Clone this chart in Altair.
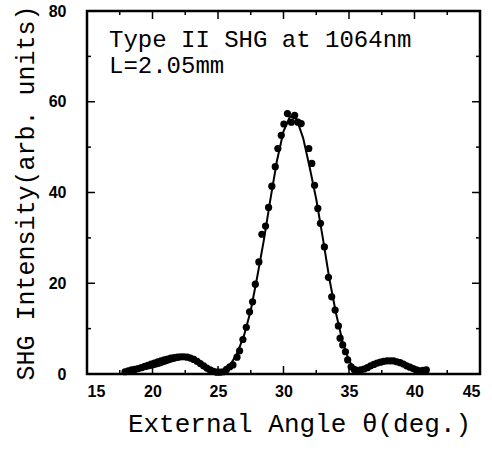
import altair as alt
import pandas as pd

# Measured SHG intensity vs. external angle
angle = [
    17.90, 18.15, 18.40, 18.65, 18.90, 19.15, 19.40, 19.65, 19.90, 20.15,
    20.40, 20.65, 20.90, 21.15, 21.40, 21.65, 21.90, 22.15, 22.40, 22.65,
    22.90, 23.15, 23.40, 23.65, 23.90, 24.15, 24.40, 24.65, 24.90, 25.15,
    25.40, 25.65, 25.90, 26.14, 26.45, 26.65, 26.90, 27.16, 27.41, 27.64,
    27.85, 28.12, 28.35, 28.63, 28.86, 29.11, 29.37, 29.57, 29.83, 30.03,
    30.30, 30.60, 30.85, 31.10, 31.35, 31.93, 32.16, 32.37, 32.62, 32.82,
    33.12, 33.43, 33.68, 33.94, 34.19, 34.32, 34.52, 34.73, 34.90, 35.16,
    35.40, 35.65, 35.90, 36.15, 36.40, 36.65, 36.90, 37.15, 37.40, 37.65,
    37.90, 38.15, 38.40, 38.65, 38.90, 39.15, 39.40, 39.65, 39.90, 40.15,
    40.40, 40.65, 40.90,
]
intensity = [
    0.5, 0.7, 0.9, 1.0, 1.2, 1.4, 1.7, 1.9, 2.2, 2.4,
    2.7, 2.9, 3.1, 3.3, 3.5, 3.6, 3.7, 3.8, 3.8, 3.7,
    3.5, 3.2, 2.8, 2.3, 1.8, 1.3, 0.9, 0.6, 0.4, 0.4,
    0.5, 1.0, 1.6, 2.0, 3.7, 5.1, 7.6, 10.3, 13.7, 15.9,
    19.8, 24.7, 30.8, 32.6, 36.7, 41.4, 45.7, 49.7, 52.6, 55.1,
    57.4, 55.5, 57.0, 55.5, 55.2, 49.7, 46.4, 41.6, 36.5, 33.2,
    28.0, 21.3, 17.0, 14.1, 10.6, 7.9, 6.4, 4.9, 3.1, 1.6,
    1.0, 0.8, 0.9, 1.1, 1.4, 1.8, 2.1, 2.4, 2.6, 2.8,
    2.9, 2.9, 2.9, 2.7, 2.5, 2.2, 1.8, 1.5, 1.2, 0.9,
    0.7, 0.8, 0.9,
]

# Theoretical phase-matching curve
fit_angle = [
    18.0, 18.5, 19.0, 19.5, 20.0, 20.5, 21.0, 21.5, 22.0, 22.5,
    23.0, 23.5, 24.0, 24.5, 25.0, 25.5, 26.0, 26.5, 27.0, 27.5,
    28.0, 28.5, 29.0, 29.5, 30.0, 30.5, 31.0, 31.5, 32.0, 32.5,
    33.0, 33.5, 34.0, 34.5, 35.0, 35.5, 36.0, 36.5, 37.0, 37.5,
    38.0, 38.5, 39.0, 39.5, 40.0, 40.5, 41.0,
]
fit_intensity = [
    0.3, 0.6, 0.9, 1.1, 1.4, 1.8, 2.3, 2.8, 3.2, 3.4,
    3.3, 2.8, 1.9, 0.9, 0.3, 0.6, 2.3, 4.8, 8.6, 14.0,
    21.5, 29.5, 38.5, 47.0, 53.5, 56.8, 56.2, 52.0, 45.5, 38.5,
    30.0, 21.0, 13.5, 7.2, 2.9, 0.8, 0.6, 1.3, 2.1, 2.7,
    2.9, 2.8, 2.3, 1.6, 1.0, 0.6, 0.4,
]

x_major = [15, 20, 25, 30, 35, 40, 45]
x_minor = [17.5, 22.5, 27.5, 32.5, 37.5, 42.5]
y_major = [0, 20, 40, 60, 80]
y_minor = [10, 30, 50, 70]

W, H = 393, 363
MAJ, MIN = 8, 4

xs = alt.Scale(domain=[15, 45], nice=False, zero=False)
ys = alt.Scale(domain=[0, 80], nice=False)

x_axis = alt.Axis(
    values=x_major, ticks=False, domain=False, grid=False,
    labelFont="Liberation Sans", labelFontWeight="bold", labelFontSize=16,
    labelColor="black", labelPadding=9,
    titleFont="Liberation Mono", titleFontWeight="normal", titleFontSize=26,
    titleColor="black", titlePadding=11, titleX=212, titleAlign="center",
)
y_axis = alt.Axis(
    values=y_major, ticks=False, domain=False, grid=False,
    labelFont="Liberation Sans", labelFontWeight="bold", labelFontSize=16,
    labelColor="black", labelPadding=21,
    titleFont="Liberation Mono", titleFontWeight="normal", titleFontSize=25,
    titleColor="black", titlePadding=10,
)

data = pd.DataFrame({"angle": angle, "intensity": intensity})
fit = pd.DataFrame({"angle": fit_angle, "intensity": fit_intensity})

curve = alt.Chart(fit).mark_line(color="black", strokeWidth=2).encode(
    x=alt.X("angle:Q", scale=xs, axis=x_axis, title="External Angle θ(deg.)"),
    y=alt.Y("intensity:Q", scale=ys, axis=y_axis, title="SHG Intensity(arb. units)"),
)

points = alt.Chart(data).mark_circle(color="black", opacity=1, size=52).encode(
    x=alt.X("angle:Q", scale=xs),
    y=alt.Y("intensity:Q", scale=ys),
)


def xticks(vals, length):
    df = pd.DataFrame({"t": vals})
    base = alt.Chart(df).mark_rule(color="black", strokeWidth=1.5)
    bottom = base.encode(x=alt.X("t:Q", scale=xs), y=alt.value(H), y2=alt.value(H - length))
    top = base.encode(x=alt.X("t:Q", scale=xs), y=alt.value(0), y2=alt.value(length))
    return [bottom, top]


def yticks(vals, length):
    df = pd.DataFrame({"t": vals})
    base = alt.Chart(df).mark_rule(color="black", strokeWidth=1.5)
    left = base.encode(y=alt.Y("t:Q", scale=ys), x=alt.value(0), x2=alt.value(length))
    right = base.encode(y=alt.Y("t:Q", scale=ys), x=alt.value(W), x2=alt.value(W - length))
    return [left, right]


ticks = xticks(x_major, MAJ) + xticks(x_minor, MIN) + yticks(y_major, MAJ) + yticks(y_minor, MIN)

label_df = pd.DataFrame({"txt": ["Type II SHG at 1064nm", "L=2.05mm"]})
line1 = alt.Chart(label_df.iloc[[0]]).mark_text(
    font="Liberation Mono", fontSize=24, align="left", baseline="alphabetic", color="black"
).encode(x=alt.value(22), y=alt.value(36), text="txt:N")
line2 = alt.Chart(label_df.iloc[[1]]).mark_text(
    font="Liberation Mono", fontSize=24, align="left", baseline="alphabetic", color="black"
).encode(x=alt.value(22), y=alt.value(62), text="txt:N")

chart = alt.layer(curve, points, *ticks, line1, line2).properties(
    width=W, height=H,
    autosize=alt.AutoSizeParams(type="none"),
    padding={"left": 87, "top": 11, "right": 12, "bottom": 82},
    background="white",
).configure_view(stroke="black", strokeWidth=2.5)

chart.save("out.html", embed_options={"renderer": "svg", "actions": False})
